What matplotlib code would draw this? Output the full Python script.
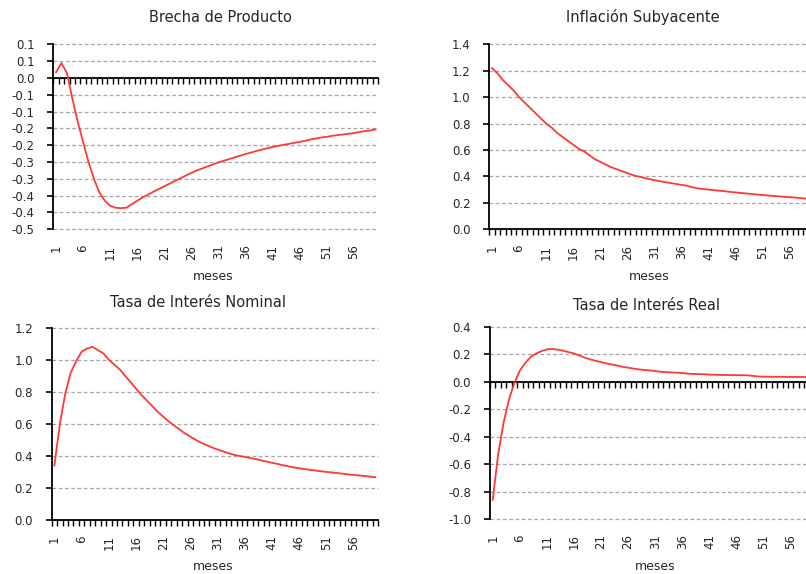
import numpy as np
import matplotlib
matplotlib.use("Agg")
import matplotlib.pyplot as plt
from matplotlib.ticker import FixedLocator, FixedFormatter

plt.rcParams["font.family"] = ["DejaVu Sans"]

# horizon in months
months = list(range(1, 61))
month_tick_labels = [str(m) for m in months[::5]]

brecha_producto = [
    0.017, 0.044, 0.015, -0.060, -0.130, -0.190, -0.250, -0.300, -0.340, -0.365,
    -0.380, -0.386, -0.387, -0.386, -0.375, -0.365, -0.355, -0.347, -0.338, -0.330,
    -0.322, -0.314, -0.306, -0.298, -0.290, -0.282, -0.275, -0.269, -0.263, -0.257,
    -0.251, -0.246, -0.241, -0.236, -0.231, -0.226, -0.222, -0.217, -0.213, -0.209,
    -0.205, -0.202, -0.199, -0.196, -0.193, -0.190, -0.187, -0.183, -0.180, -0.177,
    -0.175, -0.172, -0.170, -0.168, -0.166, -0.164, -0.161, -0.158, -0.156, -0.153,
]

inflacion_subyacente = [
    1.220, 1.180, 1.130, 1.090, 1.050, 1.000, 0.960, 0.920, 0.880, 0.840,
    0.800, 0.770, 0.730, 0.700, 0.670, 0.640, 0.610, 0.590, 0.560, 0.530,
    0.510, 0.490, 0.470, 0.455, 0.440, 0.425, 0.410, 0.400, 0.390, 0.380,
    0.372, 0.364, 0.357, 0.350, 0.343, 0.336, 0.330, 0.318, 0.310, 0.305,
    0.300, 0.296, 0.292, 0.288, 0.283, 0.279, 0.275, 0.271, 0.267, 0.263,
    0.259, 0.256, 0.252, 0.249, 0.246, 0.243, 0.240, 0.236, 0.232, 0.228,
]

tasa_nominal = [
    0.340, 0.600, 0.790, 0.920, 0.990, 1.050, 1.070, 1.080, 1.060, 1.040,
    1.000, 0.970, 0.940, 0.900, 0.860, 0.820, 0.780, 0.745, 0.710, 0.675,
    0.645, 0.615, 0.590, 0.565, 0.540, 0.520, 0.500, 0.482, 0.467, 0.452,
    0.440, 0.428, 0.417, 0.407, 0.400, 0.394, 0.387, 0.380, 0.372, 0.365,
    0.357, 0.350, 0.342, 0.335, 0.328, 0.323, 0.318, 0.313, 0.309, 0.304,
    0.300, 0.297, 0.293, 0.289, 0.285, 0.281, 0.278, 0.275, 0.271, 0.267,
]

tasa_real = [
    -0.860, -0.530, -0.300, -0.130, -0.010, 0.080, 0.135, 0.180, 0.205, 0.222,
    0.235, 0.238, 0.233, 0.225, 0.215, 0.205, 0.190, 0.175, 0.162, 0.152,
    0.142, 0.132, 0.125, 0.117, 0.108, 0.102, 0.095, 0.089, 0.085, 0.082,
    0.077, 0.072, 0.069, 0.067, 0.065, 0.063, 0.058, 0.056, 0.055, 0.054,
    0.051, 0.050, 0.049, 0.048, 0.048, 0.047, 0.047, 0.046, 0.042, 0.038,
    0.036, 0.036, 0.035, 0.035, 0.035, 0.034, 0.034, 0.034, 0.033, 0.033,
]

# y-axis ticks and their printed labels (one decimal, as in the workbook)
brecha_yticks = [0.1, 0.05, 0.0, -0.05, -0.1, -0.15, -0.2, -0.25, -0.3, -0.35, -0.4, -0.45]
brecha_ylabels = ["0.1", "0.1", "0.0", "-0.1", "-0.1", "-0.2", "-0.2", "-0.3", "-0.3", "-0.4", "-0.4", "-0.5"]
inflacion_yticks = [0.0, 0.2, 0.4, 0.6, 0.8, 1.0, 1.2, 1.4]
inflacion_ylabels = ["0.0", "0.2", "0.4", "0.6", "0.8", "1.0", "1.2", "1.4"]
nominal_yticks = [0.0, 0.2, 0.4, 0.6, 0.8, 1.0, 1.2]
nominal_ylabels = ["0.0", "0.2", "0.4", "0.6", "0.8", "1.0", "1.2"]
real_yticks = [-1.0, -0.8, -0.6, -0.4, -0.2, 0.0, 0.2, 0.4]
real_ylabels = ["-1.0", "-0.8", "-0.6", "-0.4", "-0.2", "0.0", "0.2", "0.4"]

titles = ["Brecha de Producto", "Inflación Subyacente",
          "Tasa de Interés Nominal", "Tasa de Interés Real"]
xlabel_text = "meses"

W, H = 806, 574
fig = plt.figure(figsize=(W / 100, H / 100), dpi=100)
fig.patch.set_facecolor("white")


def px_rect(left, top, right, bottom):
    return [left / W, 1 - bottom / H, (right - left) / W, (bottom - top) / H]


panels = [
    dict(rect=px_rect(53.3, 44.3, 378.3, 229.3), data=brecha_producto,
         yt=brecha_yticks, yl=brecha_ylabels, ylim=(-0.45, 0.1),
         title_xy=(220, 18), xlab_xy=(213, 276.7)),
    dict(rect=px_rect(489.3, 44.3, 814.3, 229.3), data=inflacion_subyacente,
         yt=inflacion_yticks, yl=inflacion_ylabels, ylim=(0.0, 1.4),
         title_xy=(643, 17), xlab_xy=(649, 276)),
    dict(rect=px_rect(51.7, 327.7, 378.0, 520.0), data=tasa_nominal,
         yt=nominal_yticks, yl=nominal_ylabels, ylim=(0.0, 1.2),
         title_xy=(197.5, 302.7), xlab_xy=(213.3, 566)),
    dict(rect=px_rect(490.0, 326.7, 815.0, 519.0), data=tasa_real,
         yt=real_yticks, yl=real_ylabels, ylim=(-1.0, 0.4),
         title_xy=(646.7, 305), xlab_xy=(655, 566)),
]

text_color = "#262626"
line_color = "#ff3838"

n = len(months)
category_edges = np.arange(0.5, n + 1, 1.0)

for p, title in zip(panels, titles):
    ax = fig.add_axes(p["rect"])
    ax.plot(months, p["data"], color=line_color, lw=1.3, zorder=3)

    ax.set_xlim(0.5, n + 0.5)
    ax.set_ylim(*p["ylim"])

    # y axis
    ax.yaxis.set_major_locator(FixedLocator(p["yt"]))
    ax.yaxis.set_major_formatter(FixedFormatter(p["yl"]))
    ax.tick_params(axis="y", which="major", direction="out", length=4,
                   width=1.2, color="black", pad=9.5,
                   labelsize=8.5, labelcolor=text_color)
    ax.yaxis.grid(True, which="major", linestyle=(0, (3, 2)),
                  color="#a6a6a6", lw=0.9)
    ax.set_axisbelow(True)

    # x axis: category labels at the bottom, tick marks on the zero line
    ax.xaxis.set_major_locator(FixedLocator(months[::5]))
    ax.xaxis.set_major_formatter(FixedFormatter(month_tick_labels))
    ax.xaxis.set_minor_locator(FixedLocator(category_edges))
    ax.tick_params(axis="x", which="major", bottom=True, top=False,
                   length=0, labelbottom=True, labeltop=False,
                   labelrotation=90, pad=11, labelsize=8.5,
                   labelcolor=text_color)
    ax.tick_params(axis="x", which="minor", bottom=False, top=True,
                   direction="in", length=4, width=1, color="black")

    ax.spines["top"].set_position(("data", 0))
    ax.spines["top"].set_linewidth(1.3)
    ax.spines["top"].set_color("black")
    ax.spines["left"].set_linewidth(1.3)
    ax.spines["left"].set_color("black")
    ax.spines["bottom"].set_visible(False)
    ax.spines["right"].set_visible(False)

    # keep the gridlines that sit exactly on the plot edges
    fig.canvas.draw()
    for gl in ax.yaxis.get_gridlines():
        gl.set_clip_on(False)

    tx, ty = p["title_xy"]
    fig.text(tx / W, 1 - ty / H, title, ha="center", va="center",
             fontsize=10.5, color=text_color)
    lx, ly = p["xlab_xy"]
    fig.text(lx / W, 1 - ly / H, xlabel_text, ha="center", va="center",
             fontsize=9, color=text_color)

fig.savefig("out.png", dpi=100)
